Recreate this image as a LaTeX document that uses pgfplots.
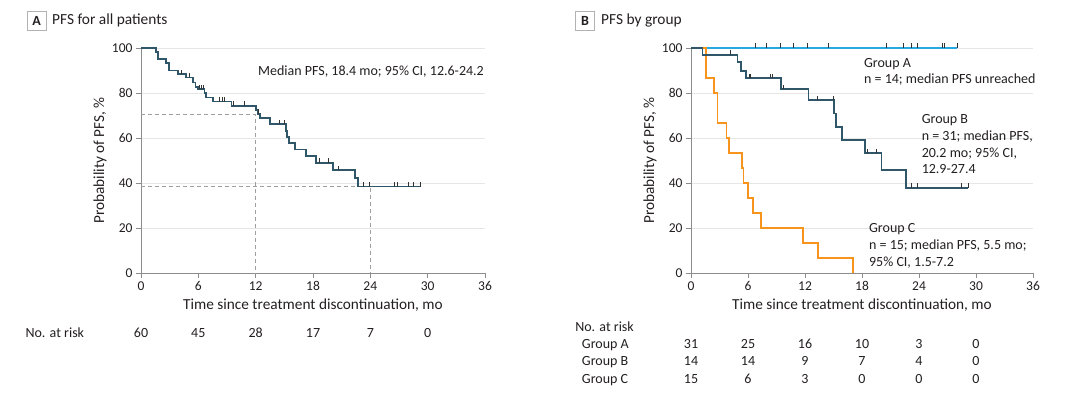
\documentclass[border=0pt]{standalone}
\usepackage{pgfplots}
\pgfplotsset{compat=1.18}
\usepackage{fontspec}
\setmainfont{Carlito}
\definecolor{kmdark}{HTML}{30566A}
\definecolor{kmblue}{HTML}{27A8E0}
\definecolor{kmorange}{HTML}{F7941D}
\definecolor{axgray}{HTML}{8C8C8C}
\definecolor{gridgray}{HTML}{E6E6E6}
\definecolor{txt}{HTML}{231F20}
\pgfdeclareplotmark{cens}{%
  \pgfpathmoveto{\pgfpointorigin}%
  \pgfpathlineto{\pgfpoint{0pt}{\pgfplotmarksize}}%
  \pgfusepathqstroke}
\tikzset{ann/.style={font=\fontsize{14}{16}\selectfont, text=txt, inner sep=0pt}}
\pgfplotsset{
  kmaxis/.style={
    scale only axis, height=225pt,
    xmin=0, xmax=36, ymin=0, ymax=100,
    xtick={0,6,...,36}, ytick={0,20,...,100},
    axis lines=left, axis line style={-, axgray, line width=0.8pt},
    tick align=outside, major tick length=5pt,
    tick style={axgray, line width=0.8pt},
    ymajorgrids, grid style={gridgray, line width=0.9pt},
    tick label style={font=\fontsize{13.5}{15}\selectfont, text=txt},
    /pgf/number format/assume math mode=true,
    label style={font=\fontsize{15.3}{17}\selectfont, text=txt},
    xlabel={Time since treatment discontinuation, mo},
    ylabel={Probability of PFS, \%},
    clip=false,
  },
  censst/.style={only marks, mark=cens, mark size=4.5pt, mark options={draw=black!80, line width=0.9pt}},
}
\pgfplotstableread{
t S
0 100
1.6 98.3
1.75 95.0
2.65 93.3
2.95 90.0
3.87 88.4
4.75 86.9
5.44 84.7
5.7 82.7
5.96 81.7
6.65 79.9
6.8 78.0
7.54 76.2
9.47 74.3
12.0 72.6
12.25 70.8
12.45 69.0
13.5 66.2
15.15 63.2
15.3 60.5
15.5 57.7
16.1 54.9
17.24 52.0
18.3 49.0
20.12 45.7
22.4 42.2
22.7 38.4
29.2 38.4
}\allcurve
\pgfplotstableread{
t S
4.2 88.4
5.1 86.9
6.15 81.7
6.32 81.7
6.5 81.7
8.2 76.2
8.5 76.2
8.78 76.2
9.64 74.3
10.85 74.3
12.3 70.8
14.5 66.2
15.0 66.2
18.66 49.0
19.6 49.0
20.7 45.7
23.3 38.4
23.9 38.4
26.5 38.4
26.8 38.4
28.0 38.4
28.5 38.4
29.2 38.4
}\allcens
\pgfplotstableread{
t S
0 100
28.0 100
}\acurve
\pgfplotstableread{
t S
6.76 100
7.95 100
9.45 100
10.78 100
12.25 100
14.43 100
20.55 100
22.41 100
23.18 100
23.88 100
26.44 100
26.68 100
28.0 100
}\acens
\pgfplotstableread{
t S
0 100
1.22 96.9
4.9 93.6
5.25 89.9
5.78 86.5
9.45 81.7
12.36 76.8
15.05 70.9
15.3 65.0
15.93 59.0
18.3 53.2
20.06 45.8
22.6 37.9
29.2 37.9
}\bcurve
\pgfplotstableread{
t S
4.2 96.9
6.12 86.5
6.3 86.5
8.4 86.5
8.57 86.5
9.7 81.7
13.3 76.8
14.98 76.8
18.55 53.2
19.5 53.2
23.2 37.9
23.8 37.9
28.5 37.9
29.2 37.9
}\bcens
\pgfplotstableread{
t S
0 100
1.55 86.7
2.42 80.0
2.78 66.7
3.74 60.0
3.97 53.3
5.35 46.7
5.53 40.0
6.02 33.3
6.52 26.7
7.35 20.0
11.83 13.3
13.35 6.7
17.07 0
}\ccurve
\begin{document}
\begin{tikzpicture}[x=1pt,y=1pt]
\useasboundingbox (0pt,0pt) rectangle (1080pt,397pt);
% panel titles
\node[draw=gray!60, line width=0.7pt, minimum width=19pt, minimum height=19pt, inner sep=0pt, font=\fontsize{14}{16}\selectfont\bfseries, text=txt] at (36.5pt,376.5pt) {A};
\node[anchor=west, font=\fontsize{15.4}{17}\selectfont, text=txt, inner sep=0pt] at (52pt,376.5pt) {PFS for all patients};
\node[draw=gray!60, line width=0.7pt, minimum width=19pt, minimum height=19pt, inner sep=0pt, font=\fontsize{14}{16}\selectfont\bfseries, text=txt] at (585pt,376.5pt) {B};
\node[anchor=west, font=\fontsize{15.4}{17}\selectfont, text=txt, inner sep=0pt] at (601pt,376.5pt) {PFS by group};

% Panel A
\begin{axis}[kmaxis, width=344pt, at={(141pt,124pt)}, anchor=south west,
  xlabel style={at={(axis description cs:0.5,-0.142)}, anchor=center},
  ylabel style={at={(axis description cs:-0.119,0.5)}, anchor=center}]
\addplot[gray!75, dash pattern=on 4pt off 3pt, line width=0.9pt] coordinates {(0,70.5) (12,70.5) (12,0)};
\addplot[gray!75, dash pattern=on 4pt off 3pt, line width=0.9pt] coordinates {(0,38.6) (24,38.6) (24,0)};
\addplot[const plot, kmdark, line width=1.8pt] table[x=t,y=S] {\allcurve};
\addplot[censst] table[x=t,y=S] {\allcens};
\node[ann, anchor=base east] at (axis cs:35.9,87.7) {Median PFS, 18.4 mo; 95\% CI, 12.6-24.2};
\node[ann, anchor=base west] at (axis cs:-12.1,-28.6) {No. at risk};
\node[ann, anchor=base] at (axis cs:0,-28.6) {60};
\node[ann, anchor=base] at (axis cs:6,-28.6) {45};
\node[ann, anchor=base] at (axis cs:12,-28.6) {28};
\node[ann, anchor=base] at (axis cs:18,-28.6) {17};
\node[ann, anchor=base] at (axis cs:24,-28.6) {7};
\node[ann, anchor=base] at (axis cs:30,-28.6) {0};
\end{axis}

% Panel B
\begin{axis}[kmaxis, width=342pt, at={(691pt,124pt)}, anchor=south west,
  xlabel style={at={(axis description cs:0.5,-0.142)}, anchor=center},
  ylabel style={at={(axis description cs:-0.12,0.5)}, anchor=center}]
\addplot[const plot, kmblue, line width=1.8pt] table[x=t,y=S] {\acurve};
\addplot[const plot, kmorange, line width=1.8pt] table[x=t,y=S] {\ccurve};
\addplot[const plot, kmdark, line width=1.8pt] table[x=t,y=S] {\bcurve};
\addplot[censst] table[x=t,y=S] {\acens};
\addplot[censst] table[x=t,y=S] {\bcens};
\node[ann, anchor=base west] at (axis cs:18.2,91.3) {Group A};
\node[ann, anchor=base west] at (axis cs:18.2,84.2) {n = 14; median PFS unreached};
\node[ann, anchor=base west] at (axis cs:24.27,66.65) {Group B};
\node[ann, anchor=base west] at (axis cs:24.27,58.9) {n = 31; median PFS,};
\node[ann, anchor=base west] at (axis cs:24.27,51.5) {20.2 mo; 95\% CI,};
\node[ann, anchor=base west] at (axis cs:24.27,44.05) {12.9-27.4};
\node[ann, anchor=base west] at (axis cs:18.73,18.06) {Group C};
\node[ann, anchor=base west] at (axis cs:18.73,10.3) {n = 15; median PFS, 5.5 mo;};
\node[ann, anchor=base west] at (axis cs:18.73,2.9) {95\% CI, 1.5-7.2};
\node[ann, anchor=base west] at (axis cs:-12.2,-25.9) {No. at risk};
\node[ann, anchor=base west] at (axis cs:-11.5,-33.5) {Group A};
\node[ann, anchor=base west] at (axis cs:-11.5,-41.1) {Group B};
\node[ann, anchor=base west] at (axis cs:-11.5,-49.1) {Group C};
\node[ann, anchor=base] at (axis cs:0,-33.5) {31};
\node[ann, anchor=base] at (axis cs:6,-33.5) {25};
\node[ann, anchor=base] at (axis cs:12,-33.5) {16};
\node[ann, anchor=base] at (axis cs:18,-33.5) {10};
\node[ann, anchor=base] at (axis cs:24,-33.5) {3};
\node[ann, anchor=base] at (axis cs:30,-33.5) {0};
\node[ann, anchor=base] at (axis cs:0,-41.1) {14};
\node[ann, anchor=base] at (axis cs:6,-41.1) {14};
\node[ann, anchor=base] at (axis cs:12,-41.1) {9};
\node[ann, anchor=base] at (axis cs:18,-41.1) {7};
\node[ann, anchor=base] at (axis cs:24,-41.1) {4};
\node[ann, anchor=base] at (axis cs:30,-41.1) {0};
\node[ann, anchor=base] at (axis cs:0,-49.1) {15};
\node[ann, anchor=base] at (axis cs:6,-49.1) {6};
\node[ann, anchor=base] at (axis cs:12,-49.1) {3};
\node[ann, anchor=base] at (axis cs:18,-49.1) {0};
\node[ann, anchor=base] at (axis cs:24,-49.1) {0};
\node[ann, anchor=base] at (axis cs:30,-49.1) {0};
\end{axis}
\end{tikzpicture}
\end{document}
